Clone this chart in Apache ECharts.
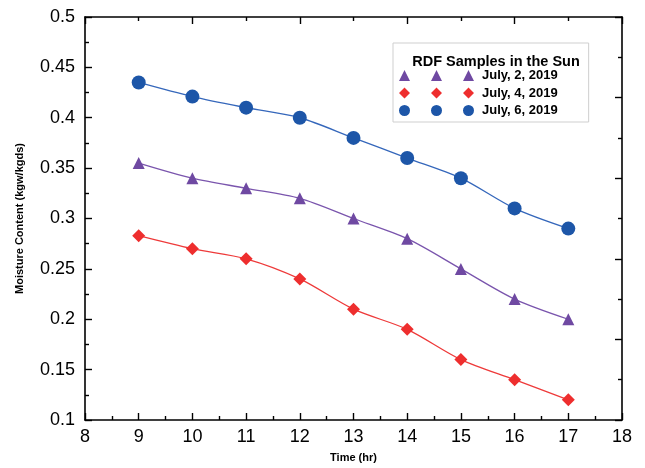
<!DOCTYPE html>
<html>
<head>
<meta charset="utf-8">
<script src="https://cdn.jsdelivr.net/npm/echarts@6/dist/echarts.min.js"></script>
<style>html,body{margin:0;padding:0;background:#fff}#c{width:645px;height:468px}</style>
</head>
<body>
<div id="c"></div>
<script>
var times = [9, 10, 11, 12, 13, 14, 15, 16, 17];
var july2 = [0.355, 0.34, 0.33, 0.32, 0.30, 0.28, 0.25, 0.22, 0.20];
var july4 = [0.283, 0.27, 0.26, 0.24, 0.21, 0.19, 0.16, 0.14, 0.12];
var july6 = [0.435, 0.421, 0.41, 0.40, 0.38, 0.36, 0.34, 0.31, 0.29];
var seriesNames = ['July, 2, 2019', 'July, 4, 2019', 'July, 6, 2019'];
var legendTitle = 'RDF Samples in the Sun';
var xTitle = 'Time (hr)';
var yTitle = 'Moisture Content (kgw/kgds)';

function pairs(vals) { return times.map(function (t, i) { return [t, vals[i]]; }); }

var triIcon = 'path://M0 11L5.5 0L11 11Z M32 11L37.5 0L43 11Z M64 11L69.5 0L75 11Z';
var diaIcon = 'path://M5.5 0L11 5.5L5.5 11L0 5.5Z M37.5 0L43 5.5L37.5 11L32 5.5Z M69.5 0L75 5.5L69.5 11L64 5.5Z';
var cirIcon = 'path://M0 5.5A5.5 5.5 0 1 0 11 5.5A5.5 5.5 0 1 0 0 5.5Z M32 5.5A5.5 5.5 0 1 0 43 5.5A5.5 5.5 0 1 0 32 5.5Z M64 5.5A5.5 5.5 0 1 0 75 5.5A5.5 5.5 0 1 0 64 5.5Z';

var colPurple = '#6f49a2', colRed = '#ee2e2e', colBlue = '#1d56a8';
var axisLine = { show: true, onZero: false, lineStyle: { color: '#000', width: 1.6 } };
var font = 'Liberation Sans, Arial, sans-serif';

var chart = echarts.init(document.getElementById('c'));
chart.setOption({
  animation: false,
  textStyle: { fontFamily: font },
  grid: { left: 85, right: 23, top: 17, bottom: 48 },
  title: {
    text: legendTitle, left: 491, top: 49, textAlign: 'center',
    textStyle: { fontSize: 14.5, fontWeight: 'bold', color: '#000', fontFamily: font }
  },
  legend: {
    orient: 'vertical', left: 393, top: 43,
    padding: [26, 31, 5, 6], itemGap: 4.5,
    itemWidth: 75, itemHeight: 11,
    borderColor: '#cfcfcf', borderWidth: 1,
    textStyle: { fontSize: 13, fontWeight: 'bold', color: '#000', fontFamily: font, padding: [0, 0, 0, 3] },
    data: [
      { name: seriesNames[0], icon: triIcon },
      { name: seriesNames[1], icon: diaIcon },
      { name: seriesNames[2], icon: cirIcon }
    ]
  },
  xAxis: [{
    type: 'value', position: 'bottom', min: 8, max: 18, interval: 1,
    axisLine: axisLine,
    axisTick: { show: true, inside: true, length: 7, lineStyle: { color: '#000', width: 1.4 } },
    minorTick: { show: true, splitNumber: 2, length: 4, lineStyle: { color: '#000', width: 1.4 } },
    splitLine: { show: false },
    axisLabel: { fontSize: 18, color: '#000', margin: 8, fontFamily: font },
    name: xTitle, nameLocation: 'middle', nameGap: 32,
    nameTextStyle: { fontSize: 11, fontWeight: 'bold', color: '#000', fontFamily: font }
  }, {
    type: 'value', position: 'top', min: 8, max: 18, interval: 2,
    axisLine: axisLine,
    axisTick: { show: true, inside: true, length: 7, lineStyle: { color: '#000', width: 1.4 } },
    minorTick: { show: true, splitNumber: 2, length: 4, lineStyle: { color: '#000', width: 1.4 } },
    splitLine: { show: false }, axisLabel: { show: false }
  }],
  yAxis: [{
    type: 'value', position: 'left', min: 0.1, max: 0.5, interval: 0.05,
    axisLine: axisLine,
    axisTick: { show: true, inside: true, length: 7, lineStyle: { color: '#000', width: 1.4 } },
    minorTick: { show: true, splitNumber: 2, length: 4, lineStyle: { color: '#000', width: 1.4 } },
    splitLine: { show: false },
    axisLabel: { fontSize: 18, color: '#000', margin: 10, fontFamily: font },
    name: yTitle, nameLocation: 'middle', nameGap: 60,
    nameTextStyle: { fontSize: 11, fontWeight: 'bold', color: '#000', fontFamily: font }
  }, {
    type: 'value', position: 'right', min: 0, max: 5, interval: 1,
    axisLine: axisLine,
    axisTick: { show: true, inside: true, length: 7, lineStyle: { color: '#000', width: 1.4 } },
    minorTick: { show: true, splitNumber: 2, length: 4, lineStyle: { color: '#000', width: 1.4 } },
    splitLine: { show: false }, axisLabel: { show: false }
  }],
  series: [{
    name: seriesNames[0], type: 'line', data: pairs(july2), smooth: 0.3,
    symbol: 'triangle', symbolSize: 12, showAllSymbol: true,
    lineStyle: { color: '#7a55ad', width: 1.3 }, itemStyle: { color: colPurple }, color: colPurple
  }, {
    name: seriesNames[1], type: 'line', data: pairs(july4), smooth: 0.3,
    symbol: 'diamond', symbolSize: 13,
    lineStyle: { color: '#ee3a3a', width: 1.3 }, itemStyle: { color: colRed }, color: colRed
  }, {
    name: seriesNames[2], type: 'line', data: pairs(july6), smooth: 0.3,
    symbol: 'circle', symbolSize: 14,
    lineStyle: { color: '#3567bb', width: 1.3 }, itemStyle: { color: colBlue }, color: colBlue
  }]
});
</script>
</body>
</html>
